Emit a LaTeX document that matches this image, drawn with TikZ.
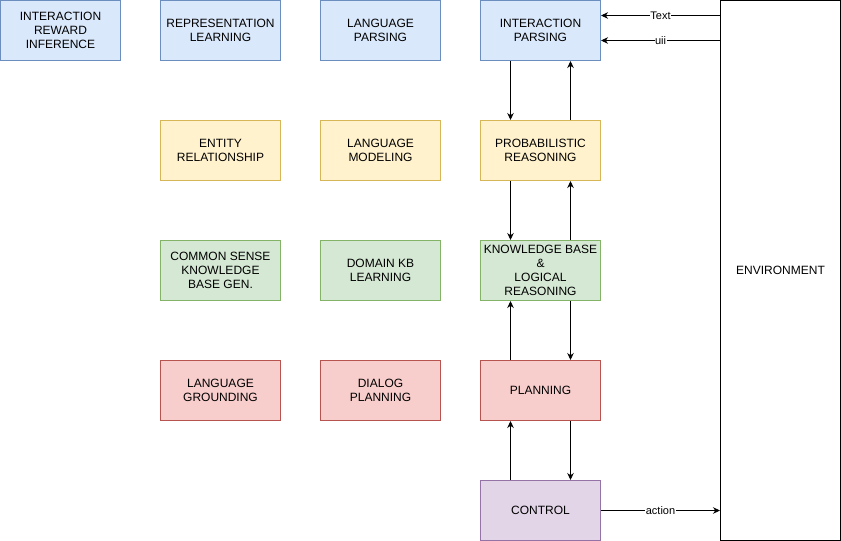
\documentclass[tikz,border=0pt]{standalone}
\usepackage{fontspec}
\setmainfont{Liberation Sans}
\usetikzlibrary{positioning, arrows.meta, calc}
\definecolor{bluefill}{HTML}{DAE8FC}
\definecolor{blueline}{HTML}{6C8EBF}
\definecolor{yellowfill}{HTML}{FFF2CC}
\definecolor{yellowline}{HTML}{D6B656}
\definecolor{greenfill}{HTML}{D5E8D4}
\definecolor{greenline}{HTML}{82B366}
\definecolor{redfill}{HTML}{F8CECC}
\definecolor{redline}{HTML}{B85450}
\definecolor{purplefill}{HTML}{E1D5E7}
\definecolor{purpleline}{HTML}{9673A6}
\tikzset{
  % coloured module box
  block/.style={rectangle, draw=#1line, fill=#1fill, line width=1pt,
                minimum width=120pt, minimum height=60pt, inner sep=0pt,
                align=center, font=\fontsize{12}{14}\selectfont},
  % plain outer box
  envbox/.style={rectangle, draw=black, fill=white, line width=1pt,
                 minimum width=120pt, minimum height=540pt,
                 font=\fontsize{12}{14}\selectfont},
  % connector with filled tip
  flow/.style={-{Stealth[length=7pt,width=6.5pt]}, line width=0.8pt},
  % text on a connector
  edgelabel/.style={fill=white, inner sep=0.5pt, font=\fontsize{11}{13}\selectfont},
}
\begin{document}
\begin{tikzpicture}[x=1pt, y=-1pt]
  \useasboundingbox (0,0) rectangle (841,541);
  % top row
  \node[block=blue] (irl) at (60.5,30.5)  {INTERACTION\\REWARD\\INFERENCE};
  \node[block=blue] (rl)  at (220.5,30.5) {REPRESENTATION\\LEARNING};
  \node[block=blue] (lp)  at (380.5,30.5) {LANGUAGE\\PARSING};
  \node[block=blue] (ip)  at (540.5,30.5) {INTERACTION\\PARSING};
  % second row
  \node[block=yellow] (er) at (220.5,150.5) {ENTITY\\RELATIONSHIP};
  \node[block=yellow] (lm) at (380.5,150.5) {LANGUAGE\\MODELING};
  \node[block=yellow] (pr) at (540.5,150.5) {PROBABILISTIC\\REASONING};
  % third row
  \node[block=green] (cs) at (220.5,270.5) {COMMON SENSE\\KNOWLEDGE\\BASE GEN.};
  \node[block=green] (dk) at (380.5,270.5) {DOMAIN KB\\LEARNING};
  \node[block=green] (kb) at (540.5,270.5) {KNOWLEDGE BASE\\\&\\LOGICAL\\REASONING};
  % fourth row
  \node[block=red] (lg) at (220.5,390.5) {LANGUAGE\\GROUNDING};
  \node[block=red] (dp) at (380.5,390.5) {DIALOG\\PLANNING};
  \node[block=red] (pl) at (540.5,390.5) {PLANNING};
  % bottom
  \node[block=purple] (ct) at (540.5,510.5) {CONTROL};
  \node[envbox] (env) at (780.5,270.5) {ENVIRONMENT};

  % vertical links
  \draw[flow] ([xshift=-30pt]ip.south) -- ([xshift=-30pt]pr.north);
  \draw[flow] ([xshift=30pt]pr.north) -- ([xshift=30pt]ip.south);
  \draw[flow] ([xshift=-30pt]pr.south) -- ([xshift=-30pt]kb.north);
  \draw[flow] ([xshift=30pt]kb.north) -- ([xshift=30pt]pr.south);
  \draw[flow] ([xshift=-30pt]pl.north) -- ([xshift=-30pt]kb.south);
  \draw[flow] ([xshift=30pt]kb.south) -- ([xshift=30pt]pl.north);
  \draw[flow] ([xshift=-30pt]ct.north) -- ([xshift=-30pt]pl.south);
  \draw[flow] ([xshift=30pt]pl.south) -- ([xshift=30pt]ct.north);

  % links to and from the environment
  \coordinate (txt) at ([yshift=15pt]ip.east);
  \coordinate (uii) at ([yshift=-10pt]ip.east);
  \draw[flow] (env.west |- txt) -- node[edgelabel] {Text} (txt);
  \draw[flow] (env.west |- uii) -- node[edgelabel] {uii} (uii);
  \draw[flow] (ct.east) -- node[edgelabel] {action} (ct.east -| env.west);
\end{tikzpicture}
\end{document}
